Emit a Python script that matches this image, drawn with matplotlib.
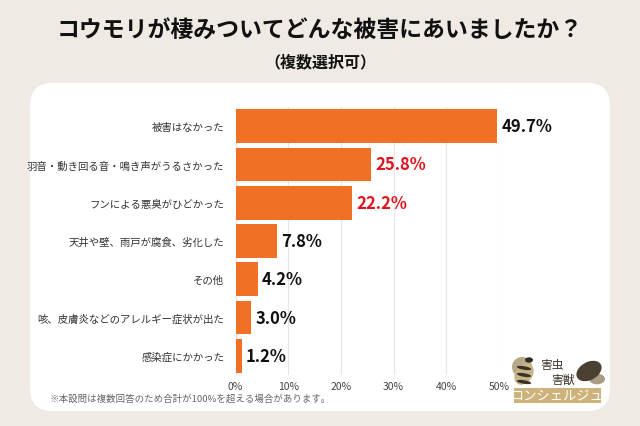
import numpy as np
import matplotlib.pyplot as plt
from matplotlib.patches import FancyBboxPatch, Circle, Ellipse, Rectangle

plt.rcParams['font.family'] = ['Noto Sans CJK JP', 'DejaVu Sans']

# data
categories = ['被害はなかった', '羽音・動き回る音・鳴き声がうるさかった', 'フンによる悪臭がひどかった',
              '天井や壁、雨戸が腐食、劣化した', 'その他', '咳、皮膚炎などのアレルギー症状が出た',
              '感染症にかかった']
values = [49.7, 25.8, 22.2, 7.8, 4.2, 3.0, 1.2]
highlight = [False, True, True, False, False, False, False]
xticks = [0, 10, 20, 30, 40, 50]

bg = '#efebe4'
bar_col = '#f07025'
red = '#e0141e'

fig = plt.figure(figsize=(6.4, 4.27), dpi=100, facecolor=bg)

# white panel behind everything
panel = FancyBboxPatch((30 / 640, (427 - 412) / 427), 580 / 640, 328 / 427,
                       boxstyle='round,pad=0,rounding_size=0.035',
                       transform=fig.transFigure, facecolor='white', edgecolor='none',
                       mutation_aspect=640 / 427, zorder=-10)
fig.patches.append(panel)

fig.text(0.5, 1 - 30 / 427, 'コウモリが棲みついてどんな被害にあいましたか？', ha='center', va='center',
         fontsize=16.5, fontweight='bold', color='#111111')
fig.text(0.5, 1 - 62 / 427, '（複数選択可）', ha='center', va='center',
         fontsize=11.5, fontweight='bold', color='#111111')

ax = fig.add_axes([235.5 / 640, 51 / 427, 263.5 / 640, 268 / 427])
ax.set_facecolor('none')
y = np.arange(len(categories))
ax.barh(y, values, height=0.88, color=bar_col, zorder=3)
ax.set_ylim(len(categories) - 0.5, -0.5)
ax.set_xlim(0, 50)
ax.set_yticks(y)
ax.set_yticklabels(categories, fontsize=7.5, color='#333333')
ax.set_xticks(xticks)
ax.set_xticklabels([f'{t}%' for t in xticks], fontsize=7.5, color='#444444')
ax.tick_params(length=0)
ax.tick_params(axis='y', pad=8)
ax.tick_params(axis='x', pad=4)
for s in ax.spines.values():
    s.set_visible(False)
ax.grid(axis='x', color='#e6e6e6', lw=0.8, zorder=0)

for yi, v, h in zip(y, values, highlight):
    ax.text(v + 0.8, yi, f'{v:.1f}%', va='center', ha='left', fontsize=12,
            fontweight='bold', color=red if h else '#111111', clip_on=False)

fig.text(50 / 640, 1 - 399 / 427, '※本設問は複数回答のため合計が100%を超える場合があります。',
         ha='left', va='center', fontsize=6.8, color='#666666')

# logo (rough)
def px(x, y):
    return x / 640, 1 - y / 427

tf = fig.transFigure
fig.patches.append(Rectangle(px(514, 404), 87 / 640, 15 / 427, transform=tf,
                             facecolor='#cdb27a', edgecolor='none'))
fig.text(*px(557.5, 396.5), 'コンシェルジュ', ha='center', va='center',
         fontsize=9.5, color='white')
fig.text(*px(552, 366), '害虫', ha='center', va='center', fontsize=8.5, color='#3a3328')
fig.text(*px(563, 380), '害獣', ha='center', va='center', fontsize=8.5, color='#3a3328')
# bee
fig.patches.append(Ellipse(px(522, 368), 20 / 640, 20 / 427, transform=tf,
                           facecolor='#b8a88a', edgecolor='none'))
fig.patches.append(Ellipse(px(524, 375), 18 / 640, 22 / 427, angle=-15, transform=tf,
                           facecolor='#c9b48a', edgecolor='none'))
for sy in [369, 376, 383]:
    fig.patches.append(Ellipse(px(524, sy), 15 / 640, 3.5 / 427, angle=-15, transform=tf,
                               facecolor='#3a3328', edgecolor='none'))
fig.patches.append(Circle(px(529, 361), 4 / 640, transform=tf,
                          facecolor='#2e2a24', edgecolor='none'))
# mouse
fig.patches.append(Circle(px(597, 380), 8 / 640, transform=tf,
                          facecolor='#a99c85', edgecolor='none'))
fig.patches.append(Ellipse(px(589, 372), 22 / 640, 22 / 427, angle=-30, transform=tf,
                           facecolor='#4a4032', edgecolor='none'))

fig.savefig('out.png', dpi=100, facecolor=bg)
